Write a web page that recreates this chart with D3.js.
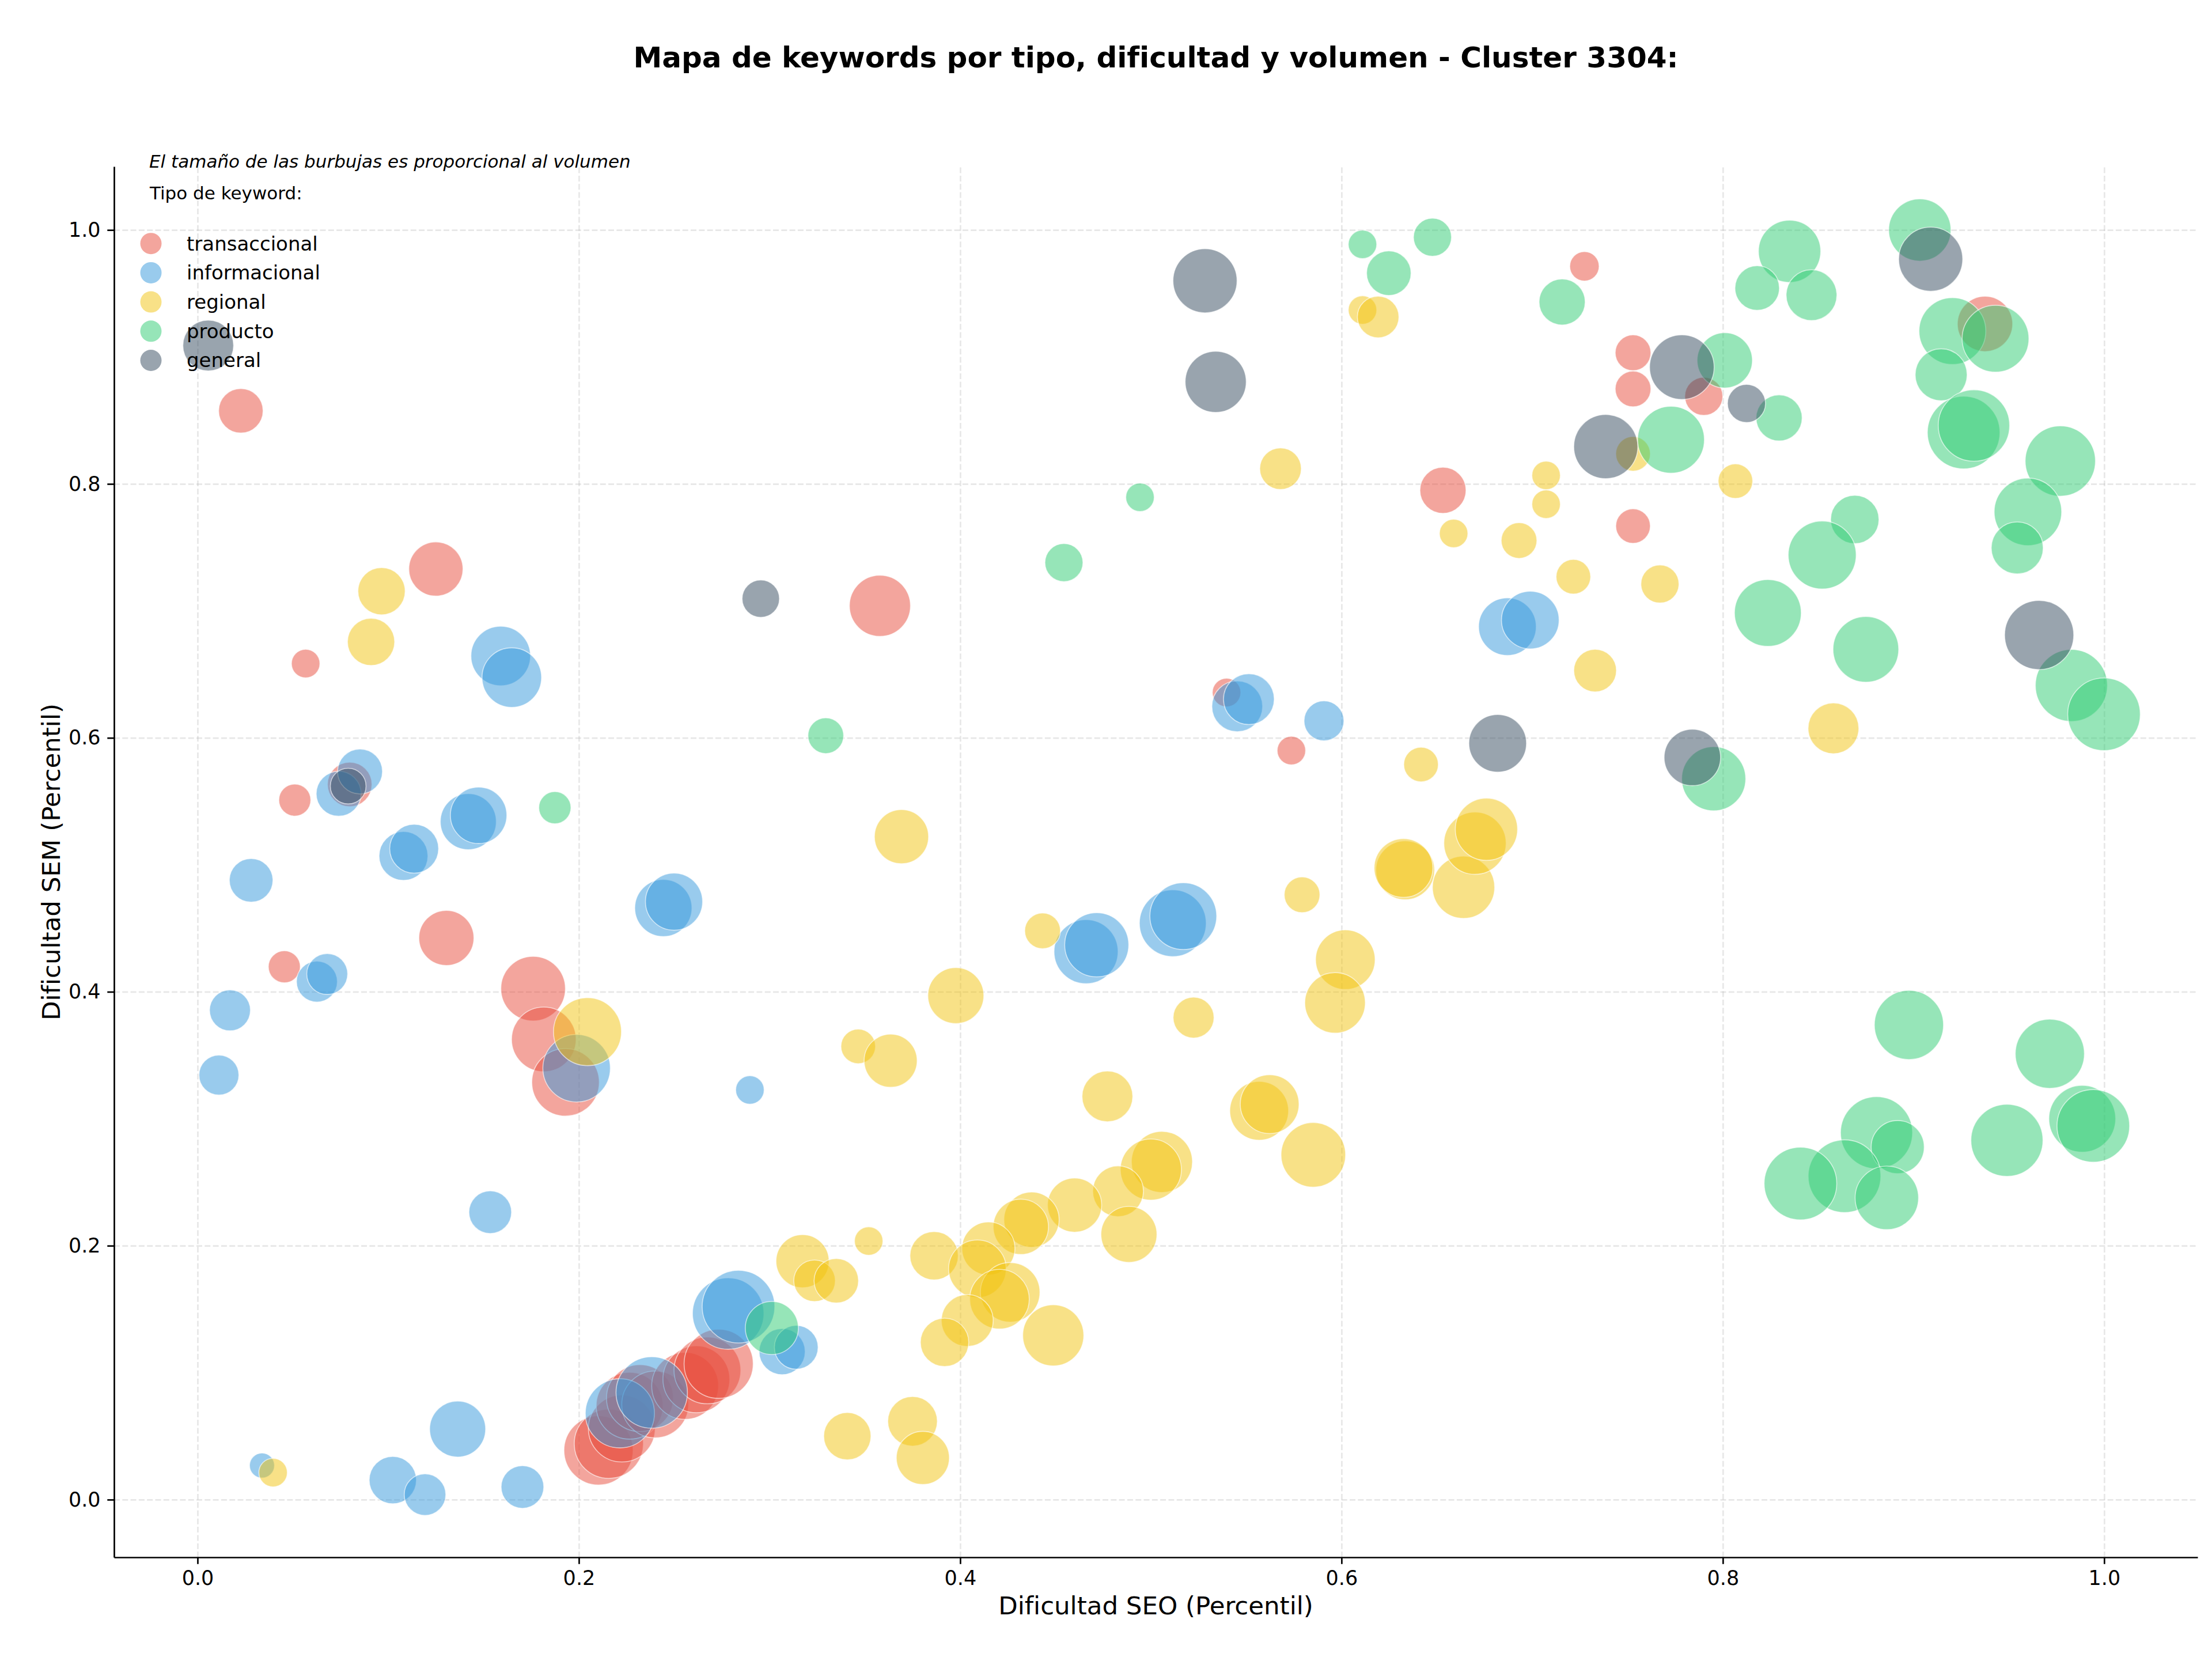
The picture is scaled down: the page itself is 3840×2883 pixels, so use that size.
<!doctype html>
<html lang="es">
  <head>
    <meta charset="UTF-8" />
    <title>Mapa de keywords - Cluster 3304</title>
    <script src="https://unpkg.com/d3@7.9.0/dist/d3.min.js"></script>
    <style>
      body {
        margin: 0;
        background: #fff;
        font-family: 'DejaVu Sans', sans-serif;
        overflow: hidden;
      }
      .tick text {
        font-size: 35px;
        fill: #000;
      }
      .grid line {
        stroke: #b0b0b0;
        stroke-opacity: 0.3;
        stroke-width: 2.67;
        stroke-dasharray: 10, 4.3;
      }
      .grid .domain {
        display: none;
      }
    </style>
  </head>
  <body>
    <svg width="3840" height="2883"></svg>

    <script>
      // [dificultad SEO, dificultad SEM, volumen]
      const transaccional = [
        [0.0227, 0.8576, 1490], [0.125, 0.733, 2210], [0.0567, 0.6585, 610],
        [0.051, 0.551, 770], [0.0798, 0.5633, 1490], [0.1305, 0.4424, 2280],
        [0.0455, 0.4197, 770], [0.176, 0.4025, 3140], [0.1816, 0.3625, 3140],
        [0.193, 0.3287, 3430], [0.2103, 0.0388, 3600], [0.2157, 0.044, 3600],
        [0.2225, 0.056, 3360], [0.2266, 0.074, 3360], [0.232, 0.08, 3360],
        [0.24, 0.075, 3360], [0.2557, 0.0896, 3360],
        [0.2616, 0.0948, 3360], [0.2674, 0.1018, 3360], [0.2733, 0.107, 3600],
        [0.3579, 0.704, 2810], [0.6532, 0.795, 1600], [0.5397, 0.6357, 610],
        [0.5737, 0.59, 610], [0.7274, 0.9714, 650], [0.7529, 0.9033, 960],
        [0.7529, 0.8748, 960], [0.79, 0.869, 1090], [0.7529, 0.7668, 900],
        [0.9375, 0.926, 2300],
      ];
      const informacional = [
        [0.159, 0.6645, 2670], [0.1648, 0.6475, 2670], [0.074, 0.556, 1520],
        [0.0852, 0.5735, 1520], [0.142, 0.534, 2360], [0.1474, 0.539, 2400],
        [0.108, 0.507, 1800], [0.1136, 0.5127, 1800], [0.0281, 0.4878, 1430],
        [0.0626, 0.408, 1260], [0.068, 0.414, 1260], [0.017, 0.3854, 1260],
        [0.0112, 0.3344, 1200], [0.1535, 0.2264, 1370], [0.2897, 0.3227, 610],
        [0.0338, 0.0269, 470], [0.1024, 0.0154, 1680], [0.1193, 0.004, 1300],
        [0.1364, 0.0556, 2360], [0.1704, 0.01, 1370], [0.1988, 0.3398, 3430],
        [0.2215, 0.068, 3600], [0.2382, 0.0844, 3840], [0.2783, 0.1466, 3840],
        [0.2837, 0.152, 3970], [0.3066, 0.1166, 1600], [0.314, 0.12, 1440],
        [0.2443, 0.466, 2460], [0.2499, 0.471, 2460], [0.466, 0.4316, 3090],
        [0.4716, 0.437, 3090], [0.5115, 0.454, 3360], [0.517, 0.4596, 3360],
        [0.5453, 0.6248, 1940], [0.5514, 0.6305, 1940], [0.5908, 0.6134, 1200],
        [0.687, 0.6876, 2500], [0.699, 0.6928, 2500],
      ];
      const regional = [
        [0.0965, 0.7155, 1680], [0.091, 0.6756, 1680], [0.2045, 0.3686, 3480],
        [0.0396, 0.0213, 610], [0.3692, 0.5222, 2210], [0.568, 0.812, 1300],
        [0.611, 0.937, 610], [0.6192, 0.9315, 1300], [0.6588, 0.761, 610],
        [0.6417, 0.579, 900], [0.7529, 0.8237, 900], [0.7073, 0.8067, 610],
        [0.7073, 0.784, 610], [0.8066, 0.8022, 900], [0.6931, 0.7554, 960],
        [0.7216, 0.7269, 900], [0.767, 0.7212, 1090], [0.733, 0.653, 1370],
        [0.858, 0.6075, 1940], [0.4432, 0.448, 960], [0.3977, 0.397, 2360],
        [0.3465, 0.357, 900], [0.3635, 0.3457, 2120], [0.5224, 0.3797, 1260],
        [0.5793, 0.4764, 960], [0.602, 0.4253, 2670], [0.5966, 0.3913, 2760],
        [0.6334, 0.4957, 2600], [0.6325, 0.4975, 2600], [0.664, 0.4823, 2920],
        [0.67, 0.517, 2920], [0.676, 0.528, 2920], [0.4772, 0.3176, 1940],
        [0.5568, 0.3063, 2600], [0.5623, 0.3115, 2600], [0.5852, 0.2716, 3140],
        [0.5058, 0.266, 2810], [0.5, 0.26, 2810], [0.4828, 0.2429, 1940],
        [0.4885, 0.2089, 2360], [0.46, 0.232, 2210], [0.4374, 0.2205, 2300],
        [0.4318, 0.2149, 2300], [0.352, 0.2037, 610], [0.3863, 0.1921, 1760],
        [0.4148, 0.1978, 2120], [0.409, 0.1818, 2500], [0.4262, 0.1633, 2670],
        [0.4206, 0.1579, 2670], [0.4037, 0.1411, 2030], [0.3918, 0.1239, 1760],
        [0.4488, 0.1294, 2810], [0.3173, 0.1878, 2120], [0.3236, 0.1724, 1300],
        [0.335, 0.1724, 1490], [0.3408, 0.05, 1680], [0.375, 0.0617, 1850],
        [0.3804, 0.0329, 2120],
      ];
      const producto = [
        [0.1874, 0.545, 780], [0.3295, 0.6017, 960], [0.611, 0.9887, 610],
        [0.6477, 0.9943, 1090], [0.6248, 0.966, 1490], [0.4943, 0.7895, 610],
        [0.4544, 0.738, 1090], [0.3012, 0.1352, 2120], [0.7157, 0.9433, 1600],
        [0.801, 0.8973, 2300], [0.8295, 0.852, 1600], [0.7728, 0.8348, 3360],
        [0.7952, 0.5678, 3090], [0.835, 0.9832, 2920], [0.818, 0.9543, 1490],
        [0.8465, 0.9487, 1940], [0.9033, 1.0, 2920], [0.9204, 0.9204, 3360],
        [0.943, 0.9144, 3360], [0.9145, 0.886, 2030], [0.9263, 0.8405, 3970],
        [0.9317, 0.846, 3840], [0.977, 0.818, 3720], [0.96, 0.778, 3430],
        [0.9544, 0.7496, 2030], [0.8692, 0.772, 1760], [0.8521, 0.744, 3480],
        [0.8236, 0.6984, 3360], [0.875, 0.6697, 3250], [0.9828, 0.6413, 3910],
        [0.9999, 0.6186, 3970], [0.8976, 0.3739, 3600], [0.9715, 0.3512, 3600],
        [0.8806, 0.289, 3910], [0.8917, 0.2777, 2120], [0.8638, 0.2548, 3970],
        [0.8407, 0.249, 3970], [0.886, 0.2377, 3030], [0.949, 0.283, 3910],
        [0.9885, 0.3, 3360], [0.9943, 0.2944, 3970],
      ];
      const general = [
        [0.0056, 0.909, 1940], [0.2954, 0.7096, 1050], [0.079, 0.562, 960],
        [0.5284, 0.96, 3090], [0.534, 0.8804, 2810], [0.6819, 0.5957, 2500],
        [0.7785, 0.892, 3140], [0.8124, 0.8634, 1090], [0.7386, 0.8294, 3090],
        [0.784, 0.5846, 2400], [0.909, 0.977, 3090], [0.9659, 0.681, 3600],
      ];

      const tipos = ['transaccional', 'informacional', 'regional', 'producto', 'general'];
      const series = [transaccional, informacional, regional, producto, general];
      const colors = ['#e74c3c', '#3498db', '#f1c40f', '#2ecc71', '#34495e'];
      const xTicks = [0, 0.2, 0.4, 0.6, 0.8, 1.0];
      const yTicks = [0, 0.2, 0.4, 0.6, 0.8, 1.0];

      const margin = { top: 289, right: 25, bottom: 180, left: 198 },
        width = 3840 - margin.left - margin.right,
        height = 2883 - margin.top - margin.bottom;

      const svg = d3.select('svg');
      const g = svg
        .append('g')
        .attr('transform', `translate(${margin.left},${margin.top})`);

      const x = d3.scaleLinear().domain([-0.0438, 1.049]).range([0, width]);
      const y = d3.scaleLinear().domain([-0.0454, 1.05]).range([height, 0]);
      const r = d3.scaleSqrt().domain([0, 3600]).range([0, 60]);
      const color = d3.scaleOrdinal(tipos, colors);

      // grid
      g.append('g')
        .attr('class', 'grid')
        .attr('transform', `translate(0,${height})`)
        .call(d3.axisBottom(x).tickValues(xTicks).tickSize(-height).tickFormat(''));
      g.append('g')
        .attr('class', 'grid')
        .call(d3.axisLeft(y).tickValues(yTicks).tickSize(-width).tickFormat(''));

      g.append('clipPath')
        .attr('id', 'clip')
        .append('rect')
        .attr('width', width)
        .attr('height', height);

      const bubbles = g.append('g').attr('clip-path', 'url(#clip)');
      tipos.forEach((t, i) => {
        bubbles
          .append('g')
          .selectAll('circle')
          .data(series[i])
          .enter()
          .append('circle')
          .attr('cx', (d) => x(d[0]))
          .attr('cy', (d) => y(d[1]))
          .attr('r', (d) => r(d[2]))
          .attr('fill', color(t))
          .attr('fill-opacity', 0.5)
          .attr('stroke', '#fff')
          .attr('stroke-opacity', 0.6)
          .attr('stroke-width', 1.6);
      });

      // axes
      const xAxis = g
        .append('g')
        .attr('transform', `translate(0,${height})`)
        .call(
          d3.axisBottom(x).tickValues(xTicks).tickFormat(d3.format('.1f'))
            .tickSize(11.7).tickSizeOuter(0).tickPadding(11.7),
        );
      const yAxis = g
        .append('g')
        .call(
          d3.axisLeft(y).tickValues(yTicks).tickFormat(d3.format('.1f'))
            .tickSize(11.7).tickSizeOuter(0).tickPadding(11.7),
        );
      [xAxis, yAxis].forEach((a) => {
        a.attr('font-family', null).attr('font-size', null);
        a.selectAll('.domain').attr('stroke', '#000').attr('stroke-width', 2.7);
        a.selectAll('.tick line').attr('stroke', '#000').attr('stroke-width', 2.7);
      });

      svg
        .append('text')
        .attr('x', margin.left + width / 2)
        .attr('y', 2787)
        .attr('dy', '0.35em')
        .attr('text-anchor', 'middle')
        .style('font-size', '43.5px')
        .text('Dificultad SEO (Percentil)');

      svg
        .append('text')
        .attr('transform', `translate(89,${margin.top + height / 2}) rotate(-90)`)
        .attr('dy', '0.35em')
        .attr('text-anchor', 'middle')
        .style('font-size', '43.5px')
        .text('Dificultad SEM (Percentil)');

      svg
        .append('text')
        .attr('x', margin.left + width / 2)
        .attr('y', 117)
        .attr('text-anchor', 'middle')
        .style('font-size', '50px')
        .style('font-weight', 'bold')
        .text('Mapa de keywords por tipo, dificultad y volumen - Cluster 3304:');

      svg
        .append('text')
        .attr('x', 259)
        .attr('y', 280)
        .attr('dy', '0.35em')
        .style('font-size', '31px')
        .style('font-style', 'italic')
        .text('El tamaño de las burbujas es proporcional al volumen');

      // legend
      svg
        .append('text')
        .attr('x', 260)
        .attr('y', 335)
        .attr('dy', '0.35em')
        .style('font-size', '31px')
        .text('Tipo de keyword:');

      const legend = svg
        .selectAll('.legend')
        .data(tipos)
        .enter()
        .append('g')
        .attr('class', 'legend')
        .attr('transform', (d, i) => `translate(262,${422.7 + i * 50.7})`);
      legend
        .append('circle')
        .attr('r', 18.5)
        .attr('fill', (d) => color(d))
        .attr('fill-opacity', 0.5);
      legend
        .append('text')
        .attr('x', 62)
        .attr('dy', '0.35em')
        .style('font-size', '34px')
        .text((d) => d);
    </script>
  </body>
</html>
